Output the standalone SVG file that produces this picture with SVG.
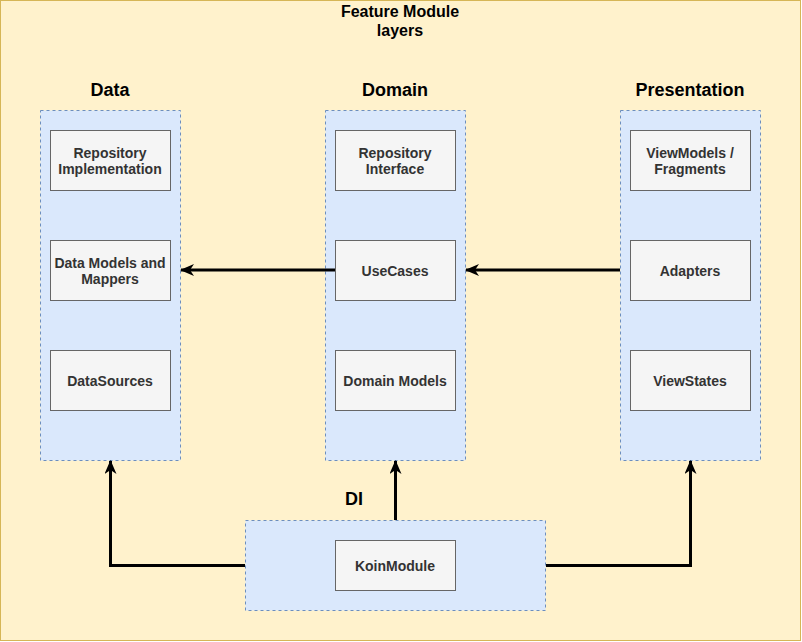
<svg xmlns="http://www.w3.org/2000/svg" width="802" height="642" viewBox="0 0 802 642">
<style>
.bg{fill:#fff2cc;stroke:#d6b656;stroke-width:1}
.cont{fill:#dae8fc;stroke:#6c8ebf;stroke-width:1;stroke-dasharray:3 3}
.box{fill:#f5f5f5;stroke:#666666;stroke-width:1}
.lbl{font-family:Helvetica,"Liberation Sans",Arial,sans-serif;font-size:14px;font-weight:bold;fill:#333333;text-anchor:middle}
.title{font-family:Helvetica,"Liberation Sans",Arial,sans-serif;font-size:18px;font-weight:bold;fill:#000000;text-anchor:middle}
.head{font-family:Helvetica,"Liberation Sans",Arial,sans-serif;font-size:16px;font-weight:bold;fill:#000000;text-anchor:middle}
.edge{fill:none;stroke:#000000;stroke-width:3}
</style>
<defs>
<marker id="arr" viewBox="0 0 14 12" refX="13" refY="6" markerWidth="14" markerHeight="12" markerUnits="userSpaceOnUse" orient="auto">
<path d="M0,0 L14,6 L0,12 L4,6 Z" fill="#000000"/>
</marker>
</defs>
<g id="background">
<rect class="bg" x="0.5" y="0.5" width="800" height="640"/>
<text class="head" x="400" y="17">Feature Module</text>
<text class="head" x="400" y="36">layers</text>
</g>
<g id="data">
<rect class="cont" x="40.5" y="110.5" width="140" height="350"/>
<text class="title" x="110" y="96">Data</text>
</g>
<g id="domain">
<rect class="cont" x="325.5" y="110.5" width="140" height="350"/>
<text class="title" x="395" y="96">Domain</text>
</g>
<g id="presentation">
<rect class="cont" x="620.5" y="110.5" width="140" height="350"/>
<text class="title" x="690" y="96">Presentation</text>
</g>
<g id="di">
<rect class="cont" x="245.5" y="520.5" width="300" height="90"/>
<text class="title" x="354" y="505">DI</text>
</g>
<g id="repo-impl">
<rect class="box" x="50.5" y="130.5" width="120" height="60"/>
<text class="lbl" x="110" y="158">Repository</text>
<text class="lbl" x="110" y="174">Implementation</text>
</g>
<g id="data-models">
<rect class="box" x="50.5" y="240.5" width="120" height="60"/>
<text class="lbl" x="110" y="268">Data Models and</text>
<text class="lbl" x="110" y="284">Mappers</text>
</g>
<g id="datasources">
<rect class="box" x="50.5" y="350.5" width="120" height="60"/>
<text class="lbl" x="110" y="386">DataSources</text>
</g>
<g id="repo-iface">
<rect class="box" x="335.5" y="130.5" width="120" height="60"/>
<text class="lbl" x="395" y="158">Repository</text>
<text class="lbl" x="395" y="174">Interface</text>
</g>
<g id="usecases">
<rect class="box" x="335.5" y="240.5" width="120" height="60"/>
<text class="lbl" x="395" y="276">UseCases</text>
</g>
<g id="domain-models">
<rect class="box" x="335.5" y="350.5" width="120" height="60"/>
<text class="lbl" x="395" y="386">Domain Models</text>
</g>
<g id="viewmodels">
<rect class="box" x="630.5" y="130.5" width="120" height="60"/>
<text class="lbl" x="690" y="158">ViewModels /</text>
<text class="lbl" x="690" y="174">Fragments</text>
</g>
<g id="adapters">
<rect class="box" x="630.5" y="240.5" width="120" height="60"/>
<text class="lbl" x="690" y="276">Adapters</text>
</g>
<g id="viewstates">
<rect class="box" x="630.5" y="350.5" width="120" height="60"/>
<text class="lbl" x="690" y="386">ViewStates</text>
</g>
<g id="koin">
<rect class="box" x="335.5" y="540.5" width="120" height="50"/>
<text class="lbl" x="395" y="571">KoinModule</text>
</g>
<g id="connectors">
<path class="edge" d="M335,270 L181,270" marker-end="url(#arr)"/>
<path class="edge" d="M620,270 L466,270" marker-end="url(#arr)"/>
<path class="edge" d="M245,565.5 L110.5,565.5 L110.5,461" marker-end="url(#arr)"/>
<path class="edge" d="M395.5,520 L395.5,461" marker-end="url(#arr)"/>
<path class="edge" d="M546,565.5 L690.5,565.5 L690.5,461" marker-end="url(#arr)"/>
</g>
</svg>
